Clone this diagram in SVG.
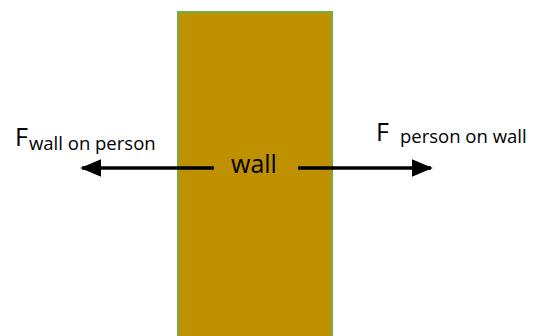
<svg xmlns="http://www.w3.org/2000/svg" width="535" height="336" viewBox="0 0 535 336">
<style>
.lbl{font-family:"Open Sans","Liberation Sans",sans-serif;fill:#000}
.big{font-size:25px}
.sub{font-size:18.5px}
.arr{stroke:#000;stroke-width:3.5;fill:none}
</style>
<defs>
<marker id="ah" markerWidth="6" markerHeight="5" refX="5.5" refY="2.5" orient="auto" markerUnits="strokeWidth" viewBox="0 0 6 5">
<path d="M0,0 L6,2.5 L0,5 z" fill="#000"/>
</marker>
</defs>
<rect width="535" height="336" fill="#fff"/>
<g id="wall">
<rect x="178" y="12" width="154" height="330" fill="#BF9000" stroke="#70AD47" stroke-width="2"/>
<text class="lbl big" x="254" y="173" text-anchor="middle">wall</text>
</g>
<g id="connectors">
<line class="arr" x1="214" y1="168" x2="82" y2="168" marker-end="url(#ah)"/>
<line class="arr" x1="298" y1="168" x2="431" y2="168" marker-end="url(#ah)"/>
</g>
<g id="f-wall-on-person">
<text class="lbl" x="15" y="146"><tspan class="big">F</tspan><tspan class="sub" x="29" y="150">wall on person</tspan></text>
</g>
<g id="f-person-on-wall">
<text class="lbl" x="376" y="141"><tspan class="big">F</tspan><tspan class="sub" x="400" y="143">person on wall</tspan></text>
</g>
</svg>
